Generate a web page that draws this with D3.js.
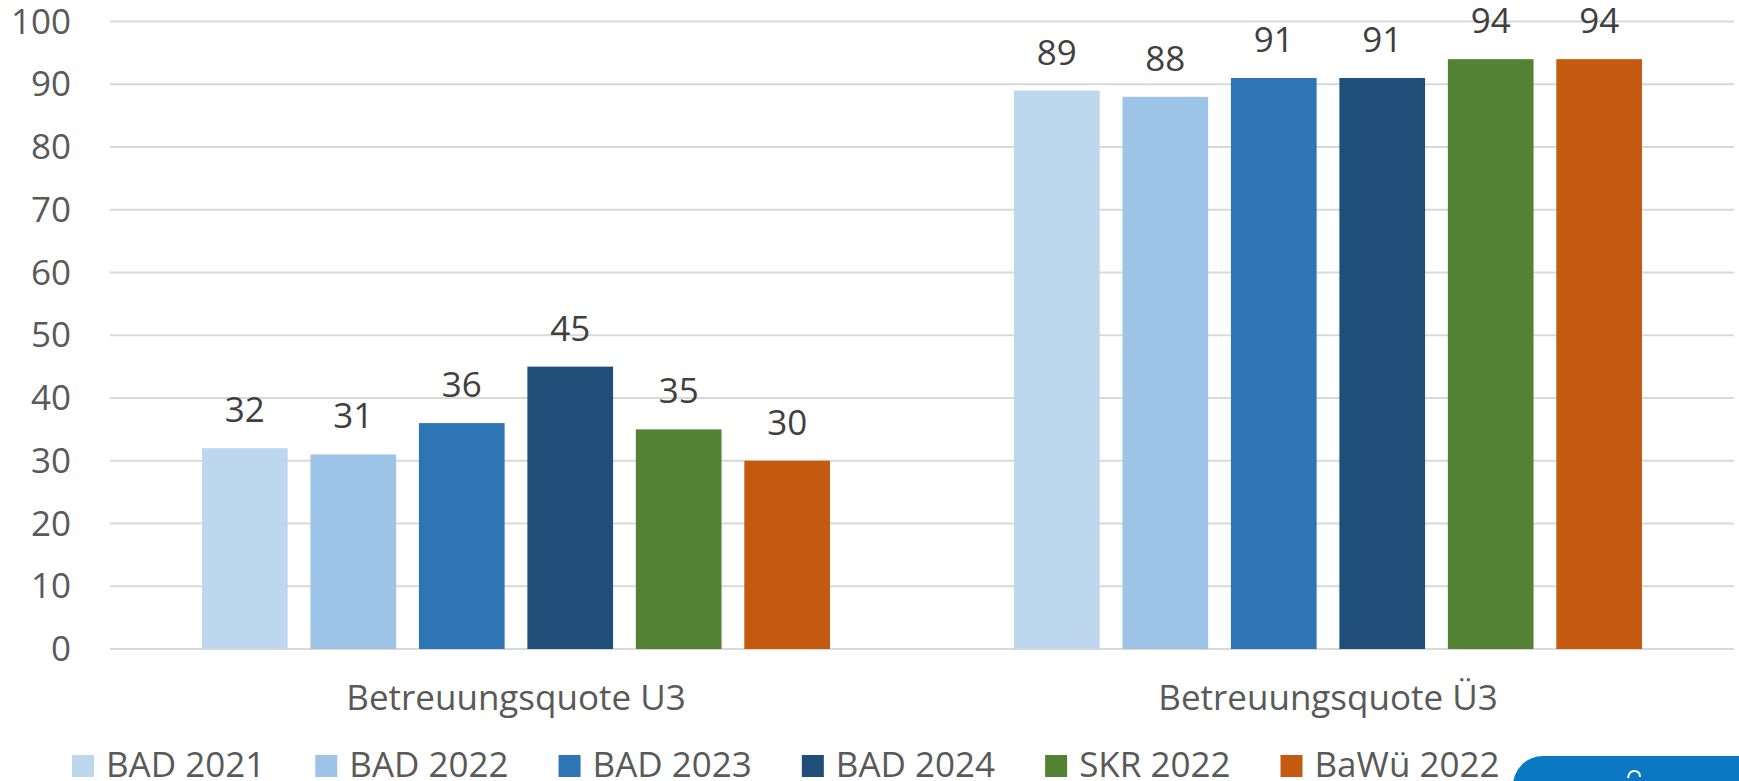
<!DOCTYPE html>
<html>
<head>
<meta charset="utf-8">
<script src="https://cdn.jsdelivr.net/npm/d3@7"></script>
<style>
  html, body { margin: 0; padding: 0; background: #ffffff; }
  svg { display: block; }
  text { font-family: "Open Sans", sans-serif; }
</style>
</head>
<body>
<svg id="chart" width="1739" height="781"></svg>
<script>
// ---- data ----
const categories = ["Betreuungsquote U3", "Betreuungsquote Ü3"];
const seriesNames = ["BAD 2021", "BAD 2022", "BAD 2023", "BAD 2024", "SKR 2022", "BaWü 2022"];
const valuesU3 = [32, 31, 36, 45, 35, 30];
const valuesUe3 = [89, 88, 91, 91, 94, 94];
const yTicks = [0, 10, 20, 30, 40, 50, 60, 70, 80, 90, 100];
const seriesColors = ["#BDD7EE", "#9DC3E6", "#2E75B6", "#1F4E79", "#548235", "#C55A11"];

const rows = categories.map((c, i) => ({
  category: c,
  values: seriesNames.map((s, j) => ({ series: s, value: (i === 0 ? valuesU3 : valuesUe3)[j] }))
}));

const svg = d3.select("#chart");
const W = 1739, H = 781;
const plot = { left: 110, right: 1734, top: 21.5, bottom: 649 };

const x0 = d3.scaleBand().domain(categories).range([plot.left, plot.right]).paddingInner(0).paddingOuter(0);
const x1 = d3.scaleBand().domain(seriesNames).range([92, 720]).paddingInner(0.21).paddingOuter(0);
const y = d3.scaleLinear().domain([0, 100]).range([plot.bottom, plot.top]);
const color = d3.scaleOrdinal().domain(seriesNames).range(seriesColors);

// gridlines
svg.append("g").selectAll("line").data(yTicks).join("line")
  .attr("x1", plot.left).attr("x2", plot.right)
  .attr("y1", d => y(d)).attr("y2", d => y(d))
  .attr("stroke", "#D9D9D9").attr("stroke-width", 2);

// y tick labels
svg.append("g").selectAll("text").data(yTicks).join("text")
  .attr("x", 71).attr("y", d => y(d) + 12)
  .attr("text-anchor", "end")
  .attr("font-size", 35).attr("fill", "#595959")
  .text(d => d);

// bars
const groups = svg.append("g").selectAll("g").data(rows).join("g")
  .attr("transform", d => `translate(${x0(d.category)},0)`);

groups.selectAll("rect").data(d => d.values).join("rect")
  .attr("x", d => x1(d.series))
  .attr("width", x1.bandwidth())
  .attr("y", d => y(d.value))
  .attr("height", d => y(0) - y(d.value))
  .attr("fill", d => color(d.series));

// data labels
groups.selectAll("text").data(d => d.values).join("text")
  .attr("x", d => x1(d.series) + x1.bandwidth() / 2)
  .attr("y", d => y(d.value) - 26)
  .attr("text-anchor", "middle")
  .attr("font-size", 35).attr("fill", "#404040")
  .text(d => d.value);

// category labels
svg.append("g").selectAll("text").data(categories).join("text")
  .attr("x", d => x0(d) + x0.bandwidth() / 2)
  .attr("y", 710)
  .attr("text-anchor", "middle")
  .attr("font-size", 35).attr("fill", "#595959")
  .text(d => d);

// legend
const legend = svg.append("g");
let lx = 72;
seriesNames.forEach(s => {
  const g = legend.append("g");
  g.append("rect").attr("x", lx).attr("y", 755).attr("width", 22).attr("height", 22).attr("fill", color(s));
  const t = g.append("text").attr("x", lx + 34).attr("y", 776.5)
    .attr("font-size", 35).attr("fill", "#595959").text(s);
  lx = lx + 34 + t.node().getComputedTextLength() + 50;
});

// blue widget in the bottom-right corner
svg.append("rect")
  .attr("x", 1513).attr("y", 756).attr("width", 260).attr("height", 80)
  .attr("rx", 30).attr("ry", 30)
  .attr("fill", "#0A78C2");
svg.append("path")
  .attr("d", "M1628,778 Q1629,771 1634,771 Q1640,771 1640,777")
  .attr("fill", "none").attr("stroke", "#ffffff").attr("stroke-width", 2);
</script>
</body>
</html>
